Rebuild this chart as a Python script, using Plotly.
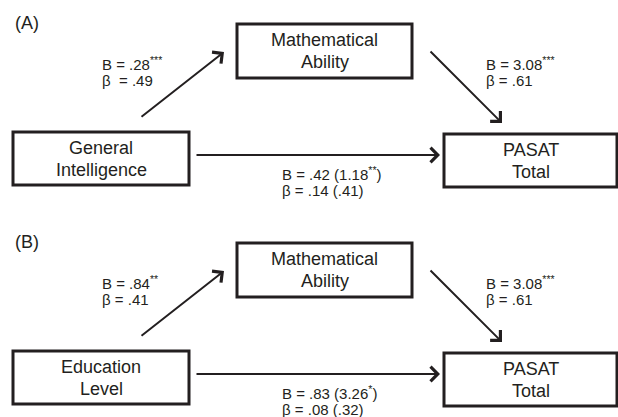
import plotly.graph_objects as go

# ---- data (text content) ----
panels = ["(A)", "(B)"]
predictors = [["General", "Intelligence"], ["Education", "Level"]]
mediator = ["Mathematical", "Ability"]
outcome = ["PASAT", "Total"]
a_paths = [["B = .28<sup>***</sup>", "β\u00a0 = .49"], ["B = .84<sup>**</sup>", "β = .41"]]
b_paths = [["B = 3.08<sup>***</sup>", "β = .61"], ["B = 3.08<sup>***</sup>", "β = .61"]]
c_paths = [["B = .42 (1.18<sup>**</sup>)", "β = .14 (.41)"], ["B = .83 (3.26<sup>*</sup>)", "β = .08 (.32)"]]

# ---- layout constants ----
W, H = 618, 417
FONT = "Liberation Sans, Arial, Helvetica, sans-serif"
INK = "#231f20"
offsets = [0, 219]
box_pred = (13, 132, 189, 185)
box_med = (237, 24, 412, 78)
box_out = (444, 134, 617, 187)
arrow_a = ((140, 118), (224, 52))
arrow_b = ((429, 50), (502, 123))
arrow_c = ((195, 155), (440, 155))
lab_a = (100, 63, 80)
lab_b = (484, 63, 80)
lab_c = (280, 173, 190)

fig = go.Figure()
shapes = []
annotations = []


def add_box(box, lines, dy):
    x0, y0, x1, y1 = box
    shapes.append(dict(type="rect", xref="x", yref="y", x0=x0, y0=y0 + dy, x1=x1, y1=y1 + dy,
                       line=dict(color=INK, width=3), fillcolor="white", layer="above"))
    cy = (y0 + y1) / 2 + dy
    for i, t in enumerate(lines):
        annotations.append(dict(x=(x0 + x1) / 2, y=cy + (i - 0.5) * 22, text=t, showarrow=False,
                                xanchor="center", yanchor="middle",
                                font=dict(family=FONT, size=18, color=INK)))


def add_arrow(arr, dy):
    (tx, ty), (hx, hy) = arr
    annotations.append(dict(x=hx, y=hy + dy, ax=tx, ay=ty + dy, xref="x", yref="y",
                            axref="x", ayref="y", text="", showarrow=True,
                            arrowhead=4, arrowsize=1.4, arrowwidth=2, arrowcolor=INK, standoff=0))


def add_label(pos, lines, dy):
    x, y1, y2 = pos
    for t, y in zip(lines, (y1, y2)):
        annotations.append(dict(x=x, y=y + dy, text=t, showarrow=False, xanchor="left",
                                yanchor="middle", font=dict(family=FONT, size=15, color=INK)))


for p, dy in enumerate(offsets):
    annotations.append(dict(x=13, y=23 + dy, text=panels[p], showarrow=False, xanchor="left",
                            yanchor="middle", font=dict(family=FONT, size=18, color=INK)))
    add_box(box_pred, predictors[p], dy)
    add_box(box_med, mediator, dy)
    add_box(box_out, outcome, dy)
    add_arrow(arrow_a, dy)
    add_arrow(arrow_b, dy)
    add_arrow(arrow_c, dy)
    add_label(lab_a, a_paths[p], dy)
    add_label(lab_b, b_paths[p], dy)
    add_label(lab_c, c_paths[p], dy)

fig.update_layout(
    width=W, height=H, margin=dict(l=0, r=0, t=0, b=0),
    paper_bgcolor="white", plot_bgcolor="white",
    xaxis=dict(range=[0, W], visible=False, fixedrange=True),
    yaxis=dict(range=[H, 0], visible=False, fixedrange=True),
    shapes=shapes, annotations=annotations, showlegend=False,
)
fig.write_html("out.html", config={"displayModeBar": False},
               post_script="document.body.style.margin='0';")
